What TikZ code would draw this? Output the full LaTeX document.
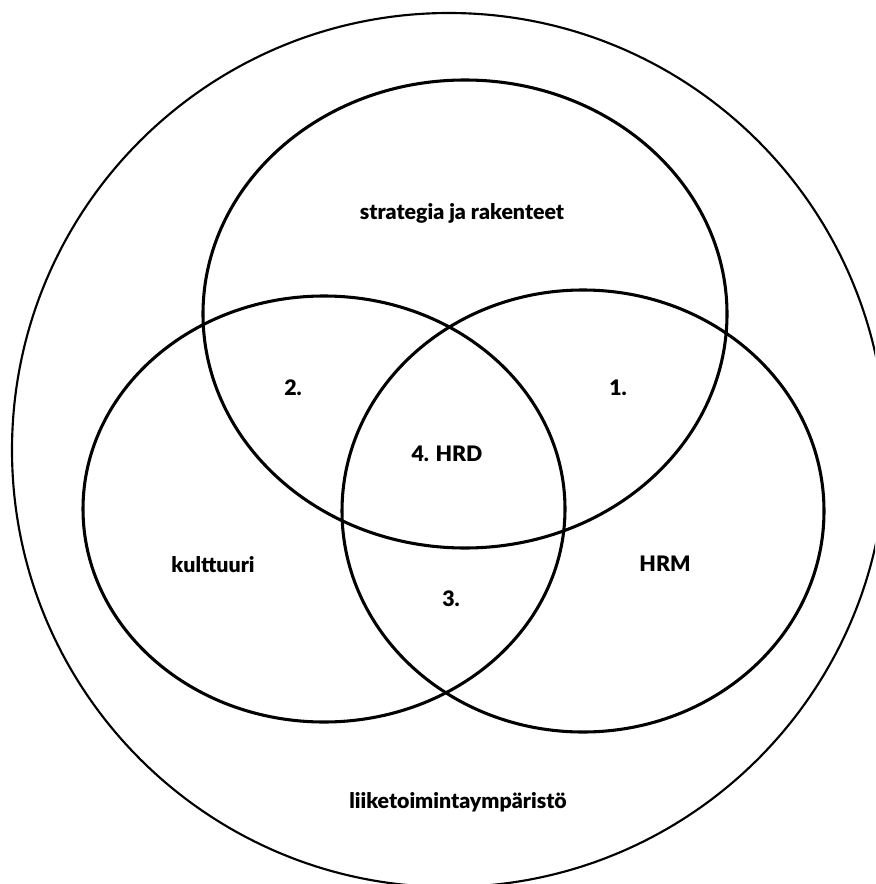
\documentclass[tikz,border=0pt]{standalone}
\usepackage{fontspec}
\setmainfont{Lato}[BoldFont={Lato Black}]
\usepackage{tikz}
\usetikzlibrary{positioning}

\begin{document}
\begin{tikzpicture}[
      x=0.75pt,
      y=-0.75pt,
      every node/.style={font=\fontsize{16}{18}\selectfont\bfseries},
      ring/.style={draw=black, line width=1.6pt},
      set/.style={draw=black, line width=2.3pt},
  ]
        \clip (0,0) rectangle (875,884);

        % environment
        \draw[ring] (449,450) circle[radius=437];

        % strategia, kulttuuri, HRM
        \draw[set] (465,314) ellipse[x radius=262, y radius=234];
        \draw[set] (324,509) ellipse[x radius=241, y radius=213];
        \draw[set] (583,511) ellipse[x radius=241, y radius=221];

        % labels
        \node (strategy) at (462,213) {strategia ja rakenteet};
        \node (culture)  at (213,565) {kulttuuri};
        \node (hrm)      at (665,564) {HRM};
        \node (one)      at (618,388) {1.};
        \node (two)      at (293,388) {2.};
        \node (three)    at (451,599) {3.};
        \node (hrd)      at (447,454) {4. HRD};
        \node (env)      at (458,802) {liiketoimintaympäristö};
  \end{tikzpicture}
\end{document}
